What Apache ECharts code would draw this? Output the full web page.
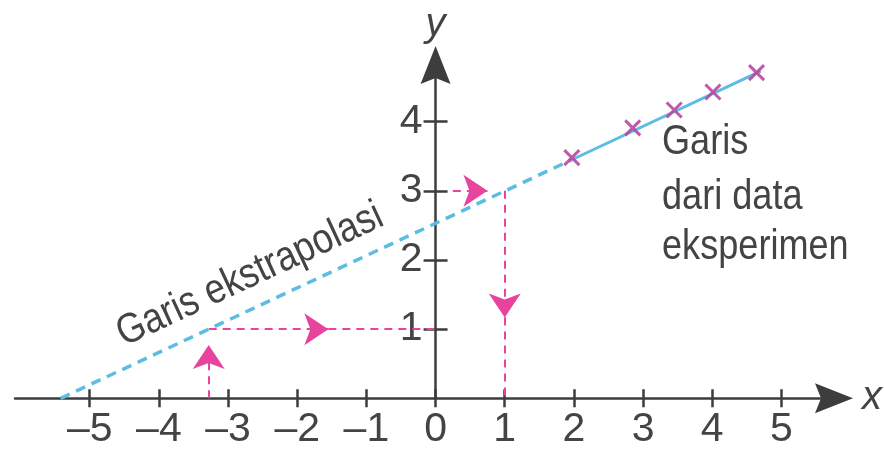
<!DOCTYPE html>
<html>
<head>
<meta charset="utf-8">
<script src="https://cdn.jsdelivr.net/npm/echarts@6/dist/echarts.min.js"></script>
<style>
  html, body { margin: 0; padding: 0; background: #ffffff; }
  #chart { width: 884px; height: 453px; }
</style>
</head>
<body>
<div id="chart"></div>
<script>
// Axis extents and tick positions
const xRange = [-6.08, 5.76];
const yRange = [0, 4.82];
const xTicks = [-5, -4, -3, -2, -1, 0, 1, 2, 3, 4, 5];
const yTicks = [1, 2, 3, 4];

// Measured points (x) and the fitted straight line through them
const measurements = [[1.97, 3.48], [2.85, 3.91], [3.45, 4.17], [4.01, 4.43], [4.64, 4.71]];
const experimentLine = [[1.97, 3.45], [4.70, 4.73]];
const extrapolationLine = [[-5.42, 0], [1.97, 3.45]];

// Reading arrows: x = -3.28 gives y = 1, x = 1 gives y = 3
const arrowsWithHead = [
  [[-3.28, 0], [-3.28, 0.77]],
  [[-3.28, 1], [-1.55, 1]],
  [[0.25, 3], [0.75, 3]],
  [[1, 3], [1, 1.17]]
];
const arrowsPlain = [
  [[-1.55, 1], [0, 1]],
  [[1, 1.17], [1, 0]]
];

const FONT = "'Liberation Sans Narrow', 'Arial Narrow', 'Liberation Sans', sans-serif";
const AXIS = '#3d3d3d';
const TEXT = '#444444';
const BLUE = '#5cbde2';
const PINK = '#e8449e';
const CROSS = '#b8479f';
const AXIS_ARROW = 'path://M15,0 L30,38 L15,32 L0,38 Z';

const GRID = { left: 15, right: 50, top: 65, bottom: 54.7 };
const CHART_W = 884;
// the y axis sits on x = 0: shift it in from the grid's left edge
const gridWidth = CHART_W - GRID.left - GRID.right;
const yAxisShift = (0 - xRange[0]) / (xRange[1] - xRange[0]) * gridWidth;

function tickLabel(v) {
  return v < 0 ? '\u2013' + (-v) : String(v);
}

function xAxisDef(main) {
  return {
    type: 'value', min: xRange[0], max: xRange[1], position: 'bottom',
    name: main ? 'x' : '', nameLocation: 'end', nameGap: 28,
    nameTextStyle: { fontFamily: FONT, fontStyle: 'italic', fontSize: 40, color: TEXT, verticalAlign: 'middle' },
    axisLine: main
      ? { show: true, onZero: false, symbol: ['none', AXIS_ARROW], symbolSize: [30, 38], lineStyle: { color: AXIS, width: 2.5 } }
      : { show: false, onZero: false },
    axisTick: { show: true, inside: main, length: 9, customValues: xTicks, lineStyle: { color: AXIS, width: 2.5 } },
    axisLabel: main
      ? { show: true, customValues: xTicks, formatter: tickLabel, fontFamily: FONT, fontSize: 41, color: TEXT, margin: 11 }
      : { show: false },
    splitLine: { show: false }
  };
}

function yAxisDef(main) {
  return {
    type: 'value', min: yRange[0], max: yRange[1], position: 'left', offset: -yAxisShift,
    name: main ? 'y' : '', nameLocation: 'end', nameGap: 20,
    nameTextStyle: { fontFamily: FONT, fontStyle: 'italic', fontSize: 40, color: TEXT, align: 'center' },
    axisLine: main
      ? { show: true, onZero: false, symbol: ['none', AXIS_ARROW], symbolSize: [30, 38], lineStyle: { color: AXIS, width: 2.5 } }
      : { show: false, onZero: false },
    axisTick: { show: true, inside: main, length: 12, customValues: yTicks, lineStyle: { color: AXIS, width: 2.5 } },
    axisLabel: main
      ? { show: true, customValues: yTicks, formatter: tickLabel, fontFamily: FONT, fontSize: 41, color: TEXT, margin: 13 }
      : { show: false },
    splitLine: { show: false }
  };
}

const chart = echarts.init(document.getElementById('chart'), null, { renderer: 'canvas' });

chart.setOption({
  animation: false,
  backgroundColor: '#ffffff',
  grid: Object.assign({ containLabel: false, outerBoundsMode: 'none' }, GRID),
  xAxis: [xAxisDef(true), xAxisDef(false)],
  yAxis: [yAxisDef(true), yAxisDef(false)],
  series: [
    {
      name: 'Garis ekstrapolasi', type: 'line', data: extrapolationLine,
      showSymbol: false, symbol: 'none', z: 3,
      lineStyle: { color: BLUE, width: 3.5, type: [10, 7] }
    },
    {
      name: 'Garis dari data eksperimen', type: 'line', data: experimentLine,
      showSymbol: false, symbol: 'none', z: 3,
      lineStyle: { color: BLUE, width: 3 }
    },
    {
      name: 'Data', type: 'scatter', data: measurements, z: 4,
      symbol: 'path://M0,0 L10,10 M10,0 L0,10', symbolSize: 15,
      itemStyle: { color: 'none', borderColor: CROSS, borderWidth: 3, opacity: 0.9 }
    },
    {
      type: 'lines', coordinateSystem: 'cartesian2d', z: 2,
      data: arrowsWithHead.map(c => ({ coords: c })),
      symbol: ['none', 'arrow'], symbolSize: [18, 24],
      lineStyle: { color: PINK, width: 2, type: [8, 6], opacity: 1 }
    },
    {
      type: 'lines', coordinateSystem: 'cartesian2d', z: 2,
      data: arrowsPlain.map(c => ({ coords: c })),
      symbol: ['none', 'none'],
      lineStyle: { color: PINK, width: 2, type: [8, 6], opacity: 1 }
    }
  ],
  graphic: [
    {
      type: 'text', x: 250, y: 275, rotation: 25 * Math.PI / 180, scaleX: 0.86,
      style: { text: 'Garis ekstrapolasi', fontFamily: FONT, fontSize: 42, fill: TEXT, align: 'center', verticalAlign: 'middle' }
    },
    {
      type: 'text', x: 662, y: 142, scaleX: 0.84,
      style: { text: 'Garis', fontFamily: FONT, fontSize: 43, fill: TEXT, align: 'left', verticalAlign: 'middle' }
    },
    {
      type: 'text', x: 662, y: 197, scaleX: 0.84,
      style: { text: 'dari data', fontFamily: FONT, fontSize: 43, fill: TEXT, align: 'left', verticalAlign: 'middle' }
    },
    {
      type: 'text', x: 662, y: 247, scaleX: 0.84,
      style: { text: 'eksperimen', fontFamily: FONT, fontSize: 43, fill: TEXT, align: 'left', verticalAlign: 'middle' }
    }
  ]
});
</script>
</body>
</html>
